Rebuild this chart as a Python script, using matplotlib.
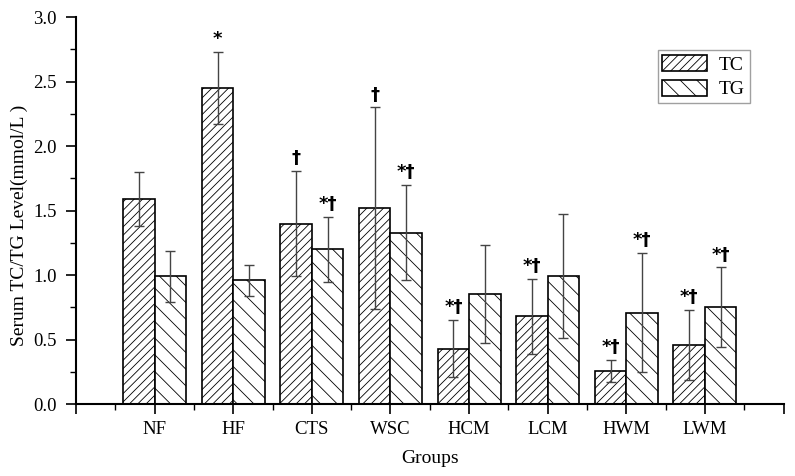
import matplotlib.pyplot as plt
import numpy as np

plt.rcParams['font.family'] = ['Liberation Serif', 'DejaVu Serif']
plt.rcParams['hatch.linewidth'] = 0.6

groups = ["NF", "HF", "CTS", "WSC", "HCM", "LCM", "HWM", "LWM"]
tc = [1.59, 2.45, 1.40, 1.52, 0.43, 0.68, 0.26, 0.46]
tc_err = [0.21, 0.28, 0.41, 0.78, 0.22, 0.29, 0.085, 0.27]
tg = [0.99, 0.96, 1.20, 1.33, 0.85, 0.99, 0.71, 0.75]
tg_err = [0.20, 0.12, 0.25, 0.37, 0.38, 0.48, 0.46, 0.31]
tc_marks = ["", "*", "†", "†", "*†", "*†", "*†", "*†"]
tg_marks = ["", "", "*†", "*†", "", "", "*†", "*†"]

x = np.arange(1, len(groups) + 1)
w = 0.4

fig = plt.figure(figsize=(7.95, 4.76), dpi=100)
ax = fig.add_axes([0.0956, 0.151, 0.89, 0.813])

ax.bar(x - w/2, tc, w, color="white", edgecolor="black", hatch="////", linewidth=1.2, label="TC")
ax.bar(x + w/2, tg, w, color="white", edgecolor="black", hatch="\\\\", linewidth=1.2, label="TG")
ax.errorbar(x - w/2, tc, yerr=tc_err, fmt="none", ecolor="#444444", elinewidth=1, capsize=3.5, capthick=1)
ax.errorbar(x + w/2, tg, yerr=tg_err, fmt="none", ecolor="#444444", elinewidth=1, capsize=3.5, capthick=1)

#significance marks above the error bars
for i in range(len(groups)):
    if tc_marks[i]:
        ax.text(x[i] - w/2, tc[i] + tc_err[i] + 0.03, tc_marks[i], ha="center", va="bottom",
                fontsize=13, fontweight="bold", family=['DejaVu Sans'])
    if tg_marks[i]:
        ax.text(x[i] + w/2, tg[i] + tg_err[i] + 0.03, tg_marks[i], ha="center", va="bottom",
                fontsize=13, fontweight="bold", family=['DejaVu Sans'])

ax.set_xlim(0, 9)
ax.set_ylim(0, 3.0)
ax.set_xticks(range(0, 10))
ax.set_xticklabels([""] + groups + [""])
ax.set_xticks(np.arange(0.5, 9, 1), minor=True)
ax.set_yticks(np.arange(0, 3.01, 0.5))
ax.set_yticks(np.arange(0.25, 3, 0.5), minor=True)
ax.set_yticklabels(["%.1f" % v for v in np.arange(0, 3.01, 0.5)])

ax.spines["top"].set_visible(False)
ax.spines["right"].set_visible(False)
ax.spines["left"].set_linewidth(1.5)
ax.spines["bottom"].set_linewidth(1.5)
ax.tick_params(axis="both", which="major", labelsize=13.5, length=7, width=1.2)
ax.tick_params(axis="x", which="major", pad=5)
ax.tick_params(axis="y", which="major", pad=7)
ax.tick_params(axis="both", which="minor", length=4, width=1)

ax.set_xlabel("Groups", fontsize=14, labelpad=9)
ax.set_ylabel("Serum TC/TG Level(mmol/L )", fontsize=14)
ax.yaxis.set_label_coords(-0.068, 0.463)

ax.legend(loc="upper left", bbox_to_anchor=(0.822, 0.915), fontsize=14, frameon=True,
          fancybox=False, edgecolor="#888888", handlelength=2.3, handleheight=0.9,
          borderpad=0.25, borderaxespad=0, labelspacing=0.3, handletextpad=0.6)

fig.savefig("out.png", dpi=100)
